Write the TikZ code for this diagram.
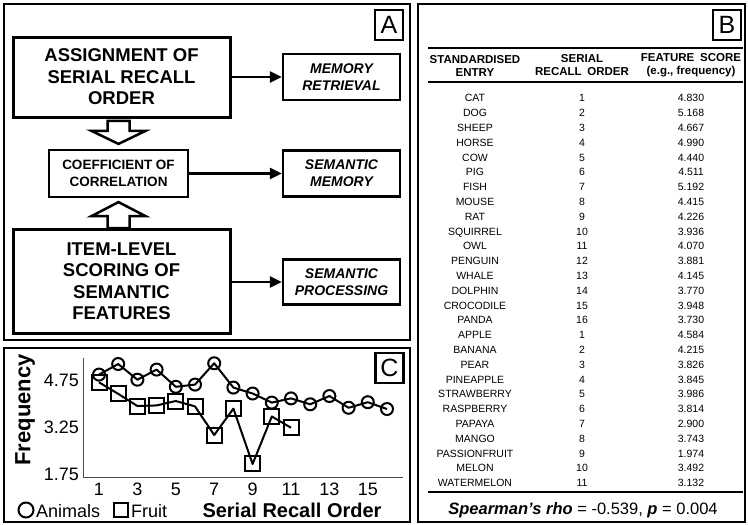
\documentclass[tikz,border=0pt]{standalone}
\usepackage{fontspec}
\setmainfont{Liberation Sans}
\usepackage{tikz}
\usetikzlibrary{calc,arrows.meta}
\tikzstyle{arrow} = [-{Triangle[length=12pt,width=11pt]}, line width=2.5pt]
\tikzstyle{panel} = [draw, line width=2.5pt]
\tikzstyle{tag} = [draw, line width=2.5pt, minimum width=28pt, minimum height=30pt, inner sep=0pt, font=\fontsize{25}{25}\selectfont]
\tikzstyle{bigbox} = [draw, line width=3pt, minimum width=217pt, align=center, inner sep=0pt, font=\bfseries\fontsize{18.5}{21.5}\selectfont]
\tikzstyle{midbox} = [draw, line width=2.2pt, minimum width=139pt, minimum height=47pt, align=center, inner sep=0pt, font=\bfseries\fontsize{13.5}{17}\selectfont]
\tikzstyle{smallbox} = [draw, line width=2.2pt, minimum width=117pt, minimum height=46pt, align=center, inner sep=0pt, font=\bfseries\itshape\fontsize{14}{17}\selectfont]
\tikzstyle{hollow} = [draw, line width=2.5pt, fill=white, line join=miter]
\tikzstyle{cell} = [inner sep=0pt, anchor=base, font=\fontsize{10.5}{12}\selectfont]
\tikzstyle{tblhead} = [inner sep=0pt, align=center, font=\bfseries\fontsize{11.5}{13}\selectfont]
\tikzstyle{rule} = [line width=1.5pt]
\tikzstyle{axisline} = [line width=0.9pt, black!70]
\tikzstyle{plotline} = [line width=2pt, line join=round]
\tikzstyle{animal} = [draw, circle, line width=2pt, minimum size=12pt, inner sep=0pt]
\tikzstyle{fruit} = [draw, rectangle, line width=2pt, minimum size=15pt, inner sep=0pt]
\tikzstyle{ticklabel} = [inner sep=0pt, font=\fontsize{18}{18}\selectfont]

\begin{document}
\begin{tikzpicture}[x=1pt, y=-1pt]
		\useasboundingbox (0,0) rectangle (748,525);

		% panel A
		\draw [panel] (4,4) rectangle (410,340);
		\node [tag] (atag) at (389,25) {A};
		\node [bigbox, minimum height=80pt] (aassign) at (121.5,77) {ASSIGNMENT OF\\SERIAL RECALL\\ORDER};
		\node [midbox] (acoef) at (118.5,173.5) {COEFFICIENT OF\\CORRELATION};
		\node [bigbox, minimum height=104pt] (aitem) at (121.5,281) {ITEM-LEVEL\\SCORING OF\\SEMANTIC\\FEATURES};
		\node [smallbox] (aretr) at (341.5,77) {MEMORY\\RETRIEVAL};
		\node [smallbox] (asem) at (341.5,173.5) {SEMANTIC\\MEMORY};
		\node [smallbox, minimum height=45pt] (aproc) at (341.5,282) {SEMANTIC\\PROCESSING};

		\draw [arrow] (aassign) -- (aretr);
		\draw [arrow] (acoef) -- (asem);
		\draw [arrow] (aitem.east |- aproc.west) -- (aproc.west);
		\draw [hollow] ($(acoef.north)+(-11,-28)$) -- ++(22,0) -- ++(0,10) -- ++(16,0)
			-- ($(acoef.north)+(0,-5)$) -- ++(-27,-13) -- ++(16,0) -- cycle;
		\draw [hollow] ($(acoef.south)+(0,4)$) -- ++(27,14) -- ++(-16,0) -- ++(0,12)
			-- ++(-22,0) -- ++(0,-12) -- ++(-16,0) -- cycle;

		% panel B
		\draw [panel] (418,4) rectangle (745,522);
		\node [tag] (btag) at (727,25) {B};
		\node [tblhead] (bhent) at (475,65.5) {STANDARDISED\\ENTRY};
		\node [tblhead] (bhord) at (582,65.5) {SERIAL\\RECALL\enspace ORDER};
		\node [tblhead] (bhsco) at (691,65.5) {FEATURE\enspace SCORE\\(e.g., frequency)};
		\draw [rule] (428,48) -- (743,48);
		\draw [rule] (428,82) -- (743,82);
		\foreach \ent/\ord/\sco [count=\r] in {CAT/1/4.830, DOG/2/5.168, SHEEP/3/4.667, HORSE/4/4.990,
			COW/5/4.440, PIG/6/4.511, FISH/7/5.192, MOUSE/8/4.415, RAT/9/4.226, SQUIRREL/10/3.936,
			OWL/11/4.070, PENGUIN/12/3.881, WHALE/13/4.145, DOLPHIN/14/3.770, CROCODILE/15/3.948,
			PANDA/16/3.730, APPLE/1/4.584, BANANA/2/4.215, PEAR/3/3.826, PINEAPPLE/4/3.845,
			STRAWBERRY/5/3.986, RASPBERRY/6/3.814, PAPAYA/7/2.900, MANGO/8/3.743,
			PASSIONFRUIT/9/1.974, MELON/10/3.492, WATERMELON/11/3.132} {
			\node [cell] (bent\r) at (475,{101.8+(\r-1)*14.8}) {\ent};
			\node [cell] (bord\r) at (582,{101.8+(\r-1)*14.8}) {\ord};
			\node [cell] (bsco\r) at (691,{101.8+(\r-1)*14.8}) {\sco};
		}
		\draw [rule] (428,492) -- (743,492);
		\node (brho) at (583,510) {\fontsize{16.5}{18}\selectfont\textbf{\textit{Spearman's rho}} = -0.539, \textbf{\textit{p}} = 0.004};

		% panel C
		\draw [panel] (4,348) rectangle (410,522);
		\node [tag] (ctag) at (389.5,368) {C};
		\coordinate (ctop) at (83,358);
		\coordinate (corig) at (83,477);
		\coordinate (cright) at (403,477);
		\draw [axisline] (ctop) -- (corig) -- (cright);
		\foreach \v in {4.75,3.25,1.75}
			\node [ticklabel, anchor=east] (cy\v) at (79,{474-(\v-1.75)*31.3}) {\v};
		\foreach \i in {1,3,...,15}
			\node [ticklabel] (cx\i) at ({99+(\i-1)*19.2},489) {\i};
		\node [rotate=90, font=\bfseries\fontsize{22}{22}\selectfont] (cfreq) at (25,410) {Frequency};
		\node [font=\bfseries\fontsize{20}{20}\selectfont] (cserial) at (292,510) {Serial Recall Order};

		\foreach \v [count=\i] in {4.830,5.168,4.667,4.990,4.440,4.511,5.192,4.415,4.226,3.936,4.070,3.881,4.145,3.770,3.948,3.730}
			\coordinate (ca\i) at ({99+(\i-1)*19.2},{471-(\v-1.75)*31.3});
		\foreach \v [count=\i] in {4.584,4.215,3.826,3.845,3.986,3.814,2.900,3.743,1.974,3.492,3.132}
			\coordinate (cf\i) at ({99+(\i-1)*19.2},{471-(\v-1.75)*31.3});
		\draw [plotline] (ca1) \foreach \i in {2,...,16} {-- (ca\i)};
		\draw [plotline] (cf1) \foreach \i in {2,...,11} {-- (cf\i)};
		\foreach \i in {1,...,16}
			\node [animal] (cam\i) at (ca\i) {};
		\foreach \i in {1,...,11}
			\node [fruit] (cfm\i) at (cf\i) {};

		% legend
		\node [animal, minimum size=15pt] (clga) at (26,510) {};
		\node [ticklabel, anchor=west] (clgat) at (36,511) {Animals};
		\node [fruit, minimum size=14pt] (clgf) at (121,510) {};
		\node [ticklabel, anchor=west] (clgft) at (131,511) {Fruit};
	\end{tikzpicture}
\end{document}
